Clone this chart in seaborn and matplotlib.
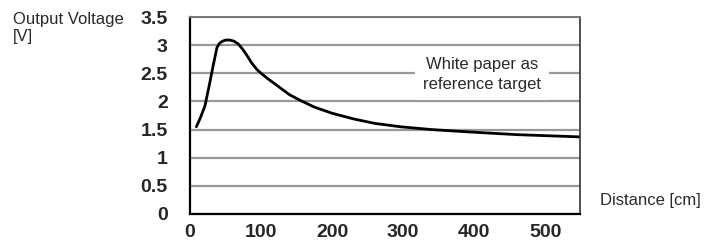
import matplotlib
matplotlib.use("Agg")
import matplotlib.pyplot as plt
import seaborn as sns
import pandas as pd

# 距离 / 输出电压
distance = [9, 15, 21, 27, 33, 38, 42, 46, 50, 56, 62, 68, 74, 80, 87, 94, 100, 110, 125,
            140, 155, 175, 200, 230, 260, 296, 340, 390, 460, 549]
voltage = [1.55, 1.72, 1.92, 2.28, 2.66, 2.96, 3.04, 3.07, 3.09, 3.09, 3.07, 3.02, 2.93,
           2.82, 2.68, 2.57, 2.50, 2.40, 2.26, 2.12, 2.02, 1.90, 1.79, 1.69, 1.61, 1.55,
           1.50, 1.46, 1.41, 1.37]

x_ticks = [0, 100, 200, 300, 400, 500]
y_ticks = [0, 0.5, 1, 1.5, 2, 2.5, 3, 3.5]
y_tick_labels = ["0", "0.5", "1", "1.5", "2", "2.5", "3", "3.5"]

df = pd.DataFrame({"Distance": distance, "Voltage": voltage})

sns.set_style("white")
plt.rcParams["font.family"] = ["Liberation Sans", "DejaVu Sans"]

fig = plt.figure(figsize=(7.15, 2.5), dpi=100)
ax = fig.add_axes([190 / 715, 36 / 250, 390 / 715, 197 / 250])

sns.lineplot(data=df, x="Distance", y="Voltage", ax=ax, color="black", linewidth=2)

ax.set_xlim(0, 549)
ax.set_ylim(0, 3.5)
ax.set_xticks(x_ticks)
ax.set_yticks(y_ticks)
ax.set_yticklabels(y_tick_labels)
ax.tick_params(axis="both", labelsize=14, length=0)
for lab in ax.get_xticklabels() + ax.get_yticklabels():
    lab.set_fontweight("bold")
ax.tick_params(axis="x", direction="in", length=4, width=1, color="#555", pad=7)
ax.tick_params(axis="y", pad=16)

# 横向网格线
ax.yaxis.grid(True, color="#999999", linewidth=1.6)
ax.xaxis.grid(False)
ax.set_axisbelow(True)

for side in ["left", "bottom"]:
    ax.spines[side].set_color("black")
    ax.spines[side].set_linewidth(1.6)
ax.spines["right"].set_color("#333333")
ax.spines["right"].set_linewidth(1.2)
ax.spines["top"].set_color("#777777")
ax.spines["top"].set_linewidth(1.4)

ax.set_xlabel("")
ax.set_ylabel("")

fig.text(13 / 715, 1 - 12 / 250, "Output Voltage\n[V]", ha="left", va="top",
         fontsize=12, color="#2a2a2a", linespacing=1.2)
fig.text(600 / 715, 1 - 200 / 250, "Distance [cm]", ha="left", va="center",
         fontsize=12, color="#2a2a2a")

ax.text(411, 2.48, "White paper as\nreference target", ha="center", va="center",
        fontsize=12, color="#2a2a2a", linespacing=1.35,
        bbox=dict(facecolor="white", edgecolor="none", pad=6))

fig.savefig("out.png", dpi=100)
